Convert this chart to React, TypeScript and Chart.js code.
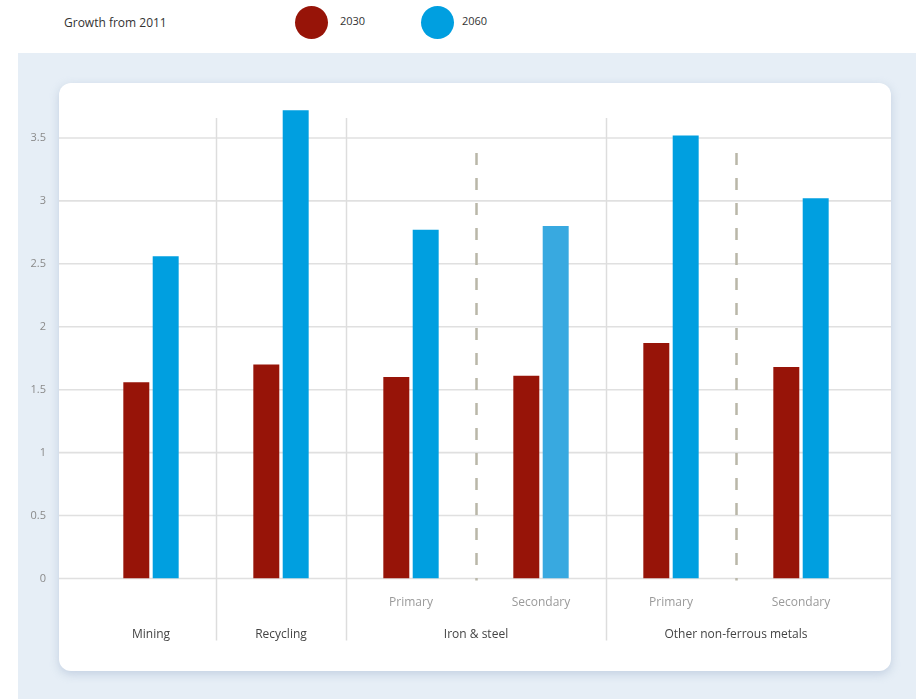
import React, { useEffect, useRef } from "react";
import { Chart, registerables } from "chart.js";

Chart.register(...registerables);

// Categories along the x axis (one per pair of bars)
const categoryKeys = [
  "Mining",
  "Recycling",
  "Iron & steel – Primary",
  "Iron & steel – Secondary",
  "Other non-ferrous metals – Primary",
  "Other non-ferrous metals – Secondary",
];
const subLabels = ["", "", "Primary", "Secondary", "Primary", "Secondary"];

// Group captions and the category indexes they cover
const groupLabels = ["Mining", "Recycling", "Iron & steel", "Other non-ferrous metals"];
const groupFirst = [0, 1, 2, 4];
const groupLast = [0, 1, 3, 5];

// Dividers drawn after the category with this index
const solidDividers = [0, 1, 3];
const dashedDividers = [2, 4];

// Series
const seriesNames = ["2030", "2060"];
const values2030 = [1.56, 1.7, 1.6, 1.61, 1.87, 1.68];
const values2060 = [2.56, 3.72, 2.77, 2.8, 3.52, 3.02];

// Value axis
const yTicks = [0, 0.5, 1, 1.5, 2, 2.5, 3, 3.5];
const yMax = 4;

const RED = "#971408";
const BLUE = "#009fe0";
const BLUE_LIGHT = "#38a9e0";
const seriesColors = [RED, BLUE];

const FONT = "'Open Sans', 'Noto Sans', sans-serif";

const CARD_LEFT = 59;
const CARD_RIGHT = 891;

const decorations = {
  id: "decorations",
  beforeDatasetsDraw(chart: any) {
    const { ctx, chartArea, scales } = chart;
    const x = scales.x;
    const y = scales.y;
    ctx.save();

    // horizontal grid across the whole card
    ctx.strokeStyle = "#e0e0e0";
    ctx.lineWidth = 1.6;
    yTicks.forEach((v) => {
      const py = y.getPixelForValue(v);
      ctx.beginPath();
      ctx.moveTo(CARD_LEFT, py);
      ctx.lineTo(CARD_RIGHT, py);
      ctx.stroke();
    });

    const boundary = (i: number) => (x.getPixelForValue(i) + x.getPixelForValue(i + 1)) / 2;

    // solid group separators
    ctx.strokeStyle = "#dddddd";
    ctx.lineWidth = 1.5;
    solidDividers.forEach((i) => {
      const px = Math.round(boundary(i)) + 0.5;
      ctx.beginPath();
      ctx.moveTo(px, chartArea.top + 43);
      ctx.lineTo(px, chartArea.bottom + 62);
      ctx.stroke();
    });

    // dashed primary / secondary separators
    ctx.strokeStyle = "#b9b7a8";
    ctx.lineWidth = 2.5;
    ctx.setLineDash([12, 13]);
    dashedDividers.forEach((i) => {
      const px = Math.round(boundary(i)) + 0.5;
      ctx.beginPath();
      ctx.moveTo(px, chartArea.top + 78);
      ctx.lineTo(px, chartArea.bottom + 2);
      ctx.stroke();
    });
    ctx.restore();
  },
  afterDraw(chart: any) {
    const { ctx, chartArea, scales } = chart;
    const x = scales.x;
    ctx.save();
    ctx.font = `12px ${FONT}`;
    ctx.fillStyle = "#444444";
    ctx.textAlign = "center";
    ctx.textBaseline = "middle";
    groupLabels.forEach((label, g) => {
      const cx = (x.getPixelForValue(groupFirst[g]) + x.getPixelForValue(groupLast[g])) / 2;
      ctx.fillText(label, cx, chartArea.bottom + 56);
    });
    ctx.restore();
  },
};

function BarChart() {
  const canvasRef = useRef<HTMLCanvasElement | null>(null);

  useEffect(() => {
    if (!canvasRef.current) return;
    const chart = new Chart(canvasRef.current, {
      type: "bar",
      data: {
        labels: categoryKeys,
        datasets: [
          {
            label: seriesNames[0],
            data: values2030,
            backgroundColor: RED,
            categoryPercentage: 0.452,
            barPercentage: 0.884,
          },
          {
            label: seriesNames[1],
            data: values2060,
            backgroundColor: values2060.map((_, i) => (i === 3 ? BLUE_LIGHT : BLUE)),
            categoryPercentage: 0.452,
            barPercentage: 0.884,
          },
        ],
      },
      options: {
        responsive: false,
        animation: false,
        layout: { padding: { left: 0, right: 55, top: 75, bottom: 0 } },
        plugins: {
          legend: { display: false },
          tooltip: { enabled: false },
        },
        scales: {
          x: {
            grid: { display: false },
            border: { display: false },
            ticks: {
              padding: 9,
              color: "#9a9a9a",
              font: { family: FONT, size: 12 },
              maxRotation: 0,
              autoSkip: false,
              callback: (_v: any, i: number) => subLabels[i],
            },
            afterFit(axis: any) {
              axis.height = 120.5;
            },
          },
          y: {
            min: 0,
            max: yMax,
            grid: { display: false },
            border: { display: false },
            afterBuildTicks(axis: any) {
              axis.ticks = yTicks.map((v) => ({ value: v }));
            },
            ticks: {
              padding: 32,
              color: "#8a8a8a",
              font: { family: FONT, size: 11 },
              callback: (v: any) => String(v),
            },
            afterFit(axis: any) {
              axis.width = 86;
            },
          },
        },
      },
      plugins: [decorations],
    });
    return () => chart.destroy();
  }, []);

  return (
    <canvas
      ref={canvasRef}
      width={921}
      height={699}
      style={{ position: "absolute", left: 0, top: 0, width: 921, height: 699 }}
    />
  );
}

export default function App() {
  return (
    <div
      style={{
        position: "absolute",
        left: 0,
        top: 0,
        width: 921,
        height: 699,
        background: "#ffffff",
        overflow: "hidden",
        fontFamily: FONT,
      }}
    >
      {/* header with legend */}
      <div
        style={{
          position: "absolute",
          left: 64,
          top: 14,
          fontSize: 12,
          color: "#333",
          lineHeight: "17px",
        }}
      >
        Growth from 2011
      </div>
      {seriesNames.map((name, i) => (
        <div key={name}>
          <div
            style={{
              position: "absolute",
              left: [295, 421][i],
              top: 6,
              width: 33,
              height: 33,
              borderRadius: "50%",
              background: seriesColors[i],
            }}
          />
          <div
            style={{
              position: "absolute",
              left: [340, 462][i],
              top: 13,
              fontSize: 11,
              color: "#333",
              lineHeight: "16px",
            }}
          >
            {name}
          </div>
        </div>
      ))}

      {/* panel background and card */}
      <div
        style={{
          position: "absolute",
          left: 18,
          top: 53,
          width: 898,
          height: 646,
          background: "#e6eef6",
        }}
      />
      <div
        style={{
          position: "absolute",
          left: CARD_LEFT,
          top: 83,
          width: CARD_RIGHT - CARD_LEFT,
          height: 588,
          background: "#ffffff",
          borderRadius: 12,
          boxShadow: "0 3px 10px rgba(150,170,200,0.45)",
        }}
      />
      <BarChart />
    </div>
  );
}
